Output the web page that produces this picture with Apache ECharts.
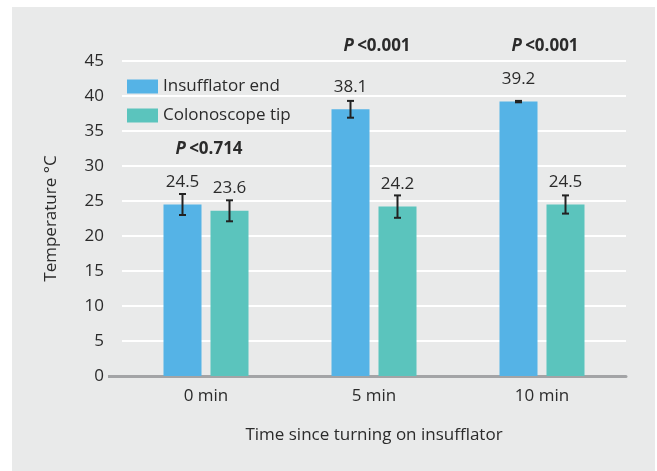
<!DOCTYPE html>
<html><head><meta charset="utf-8">
<script src="https://cdn.jsdelivr.net/npm/echarts@6/dist/echarts.min.js"></script>
<style>html,body{margin:0;padding:0;background:#fff}#c{width:657px;height:471px}</style>
</head><body><div id="c"></div>
<script>
const categories = ['0 min', '5 min', '10 min'];
const insufflator = [24.5, 38.1, 39.2];
const colonoscope = [23.6, 24.2, 24.5];
const insErr = [1.5, 1.2, 0.1];
const colErr = [1.5, 1.6, 1.3];
const pLabels = ['<0.714', '<0.001', '<0.001'];
const pY = [32.4, 47.1, 47.1];
const yTicks = [0, 5, 10, 15, 20, 25, 30, 35, 40, 45];

const FONT = "'Open Sans', sans-serif";
const BLUE = '#55b3e6', TEAL = '#5bc4bd', TXT = '#2b2b2b';
const BW = 38, GAP = 9;

const chart = echarts.init(document.getElementById('c'), null, {renderer: 'canvas'});

function errSeries(vals, errs, dx) {
  return {
    type: 'custom', silent: true, z: 5,
    data: vals.map((v, i) => [i, v, errs[i]]),
    renderItem(params, api) {
      const x = api.coord([api.value(0), 0])[0] + dx;
      const top = api.coord([0, api.value(1) + api.value(2)])[1];
      const bot = api.coord([0, api.value(1) - api.value(2)])[1];
      const s = {stroke: '#222', lineWidth: 2};
      return {type: 'group', children: [
        {type: 'line', shape: {x1: x, y1: top, x2: x, y2: bot}, style: s},
        {type: 'line', shape: {x1: x - 3.5, y1: top, x2: x + 3.5, y2: top}, style: s},
        {type: 'line', shape: {x1: x - 3.5, y1: bot, x2: x + 3.5, y2: bot}, style: s}
      ]};
    }
  };
}

chart.setOption({
  backgroundColor: '#fff',
  graphic: [
    {type: 'rect', z: -10, shape: {x: 12, y: 7, width: 643, height: 464}, style: {fill: '#e9eaea'}},
    {type: 'line', z: 10, shape: {x1: 108, y1: 376.5, x2: 123, y2: 376.5}, style: {stroke: '#a3a4a6', lineWidth: 3}}
  ],
  grid: {left: 122, right: 31, top: 61, bottom: 95},
  legend: {
    left: 122, top: 73, orient: 'vertical', icon: 'rect', itemWidth: 31, itemHeight: 14, itemGap: 12,
    textStyle: {fontFamily: FONT, fontSize: 17, color: TXT},
    data: ['Insufflator end', 'Colonoscope tip']
  },
  xAxis: {
    type: 'category', data: categories,
    name: 'Time since turning on insufflator', nameLocation: 'middle', nameGap: 51,
    nameTextStyle: {fontFamily: FONT, fontSize: 17, color: TXT},
    axisLine: {lineStyle: {color: '#a3a4a6', width: 3}},
    axisTick: {show: false},
    axisLabel: {fontFamily: FONT, fontSize: 17, color: TXT, margin: 12}
  },
  yAxis: {
    type: 'value', min: 0, max: 45, interval: 5,
    name: 'Temperature °C', nameLocation: 'middle', nameGap: 62,
    nameTextStyle: {fontFamily: FONT, fontSize: 17, color: TXT},
    axisLine: {show: false}, axisTick: {show: false},
    axisLabel: {fontFamily: FONT, fontSize: 17, color: TXT, margin: 18,
      formatter: v => yTicks.includes(v) ? String(v) : ''},
    splitLine: {lineStyle: {color: '#ffffff', width: 2}}
  },
  series: [
    {name: 'Insufflator end', type: 'bar', data: insufflator, barWidth: BW, barGap: (GAP / BW * 100) + '%',
     itemStyle: {color: BLUE},
     label: {show: true, position: 'top', distance: 14, fontFamily: FONT, fontSize: 17, color: TXT,
       formatter: p => p.value.toFixed(1)}},
    {name: 'Colonoscope tip', type: 'bar', data: colonoscope, barWidth: BW,
     itemStyle: {color: TEAL},
     label: {show: true, position: 'top', distance: 14, fontFamily: FONT, fontSize: 17, color: TXT,
       formatter: p => p.value.toFixed(1)}},
    errSeries(insufflator, insErr, -(BW + GAP) / 2),
    errSeries(colonoscope, colErr, (BW + GAP) / 2),
    {
      type: 'custom', silent: true, z: 6,
      data: pLabels.map((t, i) => [i, pY[i]]),
      renderItem(params, api) {
        const pt = api.coord([api.value(0), api.value(1)]);
        const txt = pLabels[params.dataIndex];
        return {type: 'text', x: pt[0] + 3, y: pt[1], style: {
          text: '{i|P} {b|' + txt + '}', align: 'center', verticalAlign: 'middle',
          rich: {
            i: {fontFamily: FONT, fontSize: 17, fontWeight: 'bold', fontStyle: 'italic', fill: TXT},
            b: {fontFamily: FONT, fontSize: 17, fontWeight: 'bold', fill: TXT}
          }
        }};
      }
    }
  ]
});
</script>
</body></html>
